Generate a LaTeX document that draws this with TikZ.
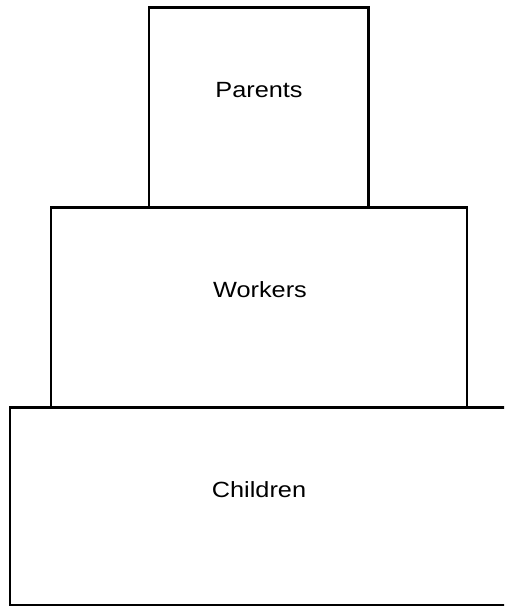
\documentclass[tikz,border=0pt]{standalone}
\usepackage{fontspec}
\setmainfont{Liberation Sans}
\newfontfamily\labfont[FakeStretch=1.15]{Liberation Sans}
\begin{document}
\begin{tikzpicture}[x=1pt,y=-1pt,
  tier/.style={draw=black,line width=2.6pt},
  lab/.style={anchor=base,inner sep=0pt,font=\labfont\fontsize{22}{24}\selectfont}]
\useasboundingbox (0,0) rectangle (504,608);
\clip (0,0) rectangle (504,608);
\draw[tier] (149,7.5) rectangle (368.5,207.5);
\draw[tier] (51,207.5) rectangle (467,407.5);
\draw[tier] (10,407.5) rectangle (507,605);
\node[lab] (parents) at (259,97) {Parents};
\node[lab] (workers) at (260,297) {Workers};
\node[lab] (children) at (259,497) {Children};
\end{tikzpicture}
\end{document}
